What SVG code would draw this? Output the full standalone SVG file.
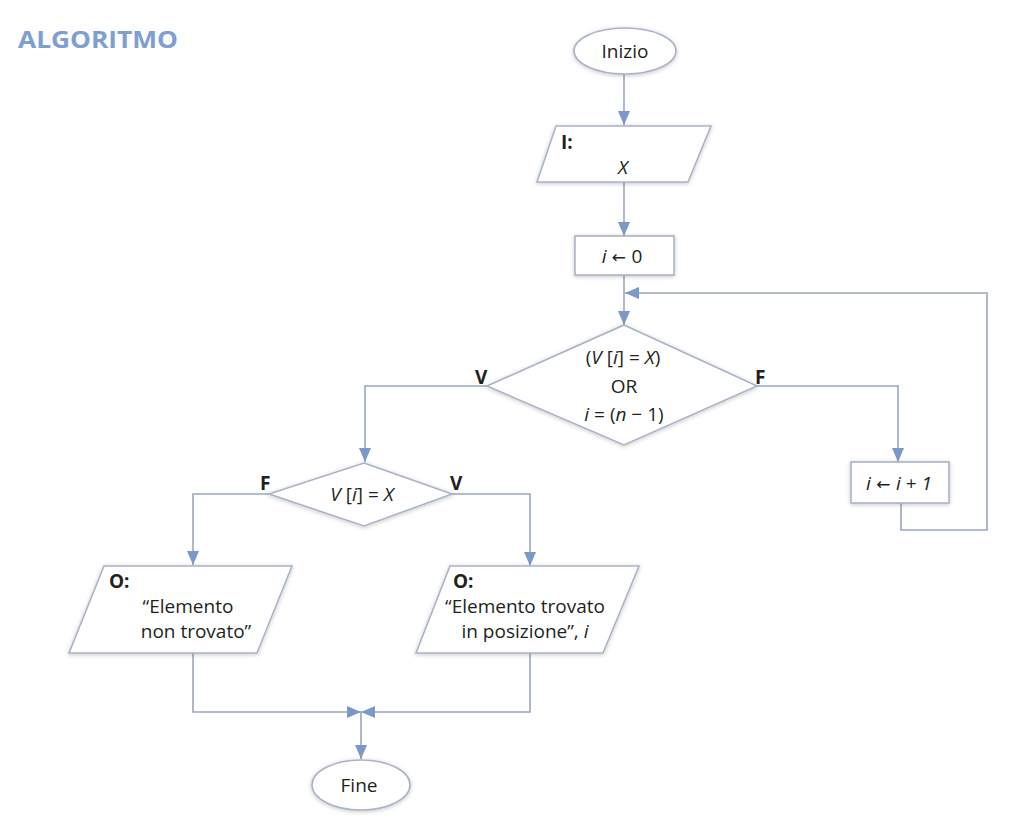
<svg xmlns="http://www.w3.org/2000/svg" width="1029" height="828" viewBox="0 0 1029 828">
<style>
.shape{fill:#fff;stroke:#a9b3c7;stroke-width:1.6;filter:url(#sh)}
.con{fill:none;stroke:#9ba7be;stroke-width:1.6}
.t{font-family:"Open Sans","Liberation Sans",sans-serif;font-size:19px;fill:#231f20;text-anchor:middle}
.l{font-family:"Open Sans","Liberation Sans",sans-serif;font-size:19px;font-weight:bold;fill:#231f20}
.i{font-style:italic}
.ar{font-family:"DejaVu Sans",sans-serif;font-size:17px}
</style>
<defs>
<filter id="sh" x="-20%" y="-20%" width="140%" height="140%">
<feDropShadow dx="0" dy="1" stdDeviation="2" flood-color="#000" flood-opacity="0.22"/>
</filter>
<marker id="ahb" viewBox="0 0 14 12" refX="14" refY="6" markerWidth="14" markerHeight="12" markerUnits="userSpaceOnUse" orient="auto">
<path d="M0,0 L14,6 L0,12 Z" fill="#7b98c8"/>
</marker>
</defs>
<rect width="1029" height="828" fill="#fff"/>
<text x="18" y="48" font-family="'Open Sans','Liberation Sans',sans-serif" font-size="24" font-weight="bold" fill="#7f9fd0" textLength="160" lengthAdjust="spacingAndGlyphs">ALGORITMO</text>

<g id="connectors">
<path class="con" d="M624,74 V125" marker-end="url(#ahb)"/>
<path class="con" d="M624,182 V236" marker-end="url(#ahb)"/>
<path class="con" d="M624,275 V325" marker-end="url(#ahb)"/>
<path class="con" d="M901,503 V530 H987 V293 H625" marker-end="url(#ahb)"/>
<path class="con" d="M487,386 H365 V462" marker-end="url(#ahb)"/>
<path class="con" d="M757,386 H898 V462" marker-end="url(#ahb)"/>
<path class="con" d="M269,494 H193 V565" marker-end="url(#ahb)"/>
<path class="con" d="M452,494 H530 V566" marker-end="url(#ahb)"/>
<path class="con" d="M193,653 V712 H361" marker-end="url(#ahb)"/>
<path class="con" d="M530,653 V712 H361" marker-end="url(#ahb)"/>
<path class="con" d="M361,712 V759" marker-end="url(#ahb)"/>
</g>

<g id="inizio">
<ellipse class="shape" cx="625" cy="51" rx="51" ry="23"/>
<text class="t" x="625" y="58">Inizio</text>
</g>

<g id="input">
<polygon class="shape" points="556,126 711,126 688,182 537,182"/>
<text class="l" x="561" y="149">I:</text>
<text class="t i" x="623" y="174">X</text>
</g>

<g id="init">
<rect class="shape" x="575" y="236" width="99" height="39"/>
<text class="t" x="622" y="263"><tspan class="i">i</tspan><tspan class="ar"> ← </tspan>0</text>
</g>

<g id="cond1">
<polygon class="shape" points="624,325 757,386 624,445 487,386"/>
<text class="t" x="623" y="364">(<tspan class="i">V</tspan> [<tspan class="i">i</tspan>] = <tspan class="i">X</tspan>)</text>
<text class="t" x="624" y="393">OR</text>
<text class="t" x="624" y="421"><tspan class="i">i</tspan> = (<tspan class="i">n</tspan> − 1)</text>
<text class="l" x="475" y="384">V</text>
<text class="l" x="755" y="384">F</text>
</g>

<g id="incr">
<rect class="shape" x="851" y="462" width="98" height="41"/>
<text class="t" x="899" y="490"><tspan class="i">i</tspan><tspan class="ar"> ← </tspan><tspan class="i">i</tspan> + <tspan class="i">1</tspan></text>
</g>

<g id="cond2">
<polygon class="shape" points="364,463 452,494 364,526 269,494"/>
<text class="t" x="362" y="501"><tspan class="i">V</tspan> [<tspan class="i">i</tspan>] = <tspan class="i">X</tspan></text>
<text class="l" x="260" y="490">F</text>
<text class="l" x="450" y="490">V</text>
</g>

<g id="out-notfound">
<polygon class="shape" points="104,566 292,566 257,653 69,653"/>
<text class="l" x="109" y="588">O:</text>
<text class="t" x="188" y="613">“Elemento</text>
<text class="t" x="196" y="638">non trovato”</text>
</g>

<g id="out-found">
<polygon class="shape" points="450,566 639,566 603,653 416,653"/>
<text class="l" x="453" y="588">O:</text>
<text class="t" x="525" y="613">“Elemento trovato</text>
<text class="t" x="525" y="638">in posizione”, <tspan class="i">i</tspan></text>
</g>

<g id="fine">
<ellipse class="shape" cx="361" cy="785" rx="49" ry="25"/>
<text class="t" x="359" y="792">Fine</text>
</g>
</svg>
